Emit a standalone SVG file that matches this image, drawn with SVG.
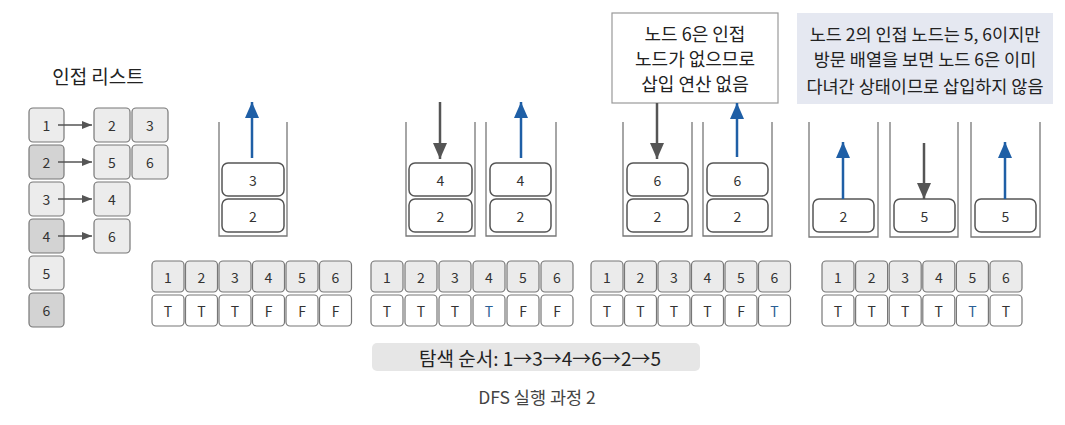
<svg xmlns="http://www.w3.org/2000/svg" width="1065" height="425" viewBox="0 0 1065 425">
<style>
text{font-family:"Noto Sans CJK KR","Noto Sans",sans-serif;fill:#333;text-anchor:middle;dominant-baseline:central}
.num{font-size:14px}
.note{font-size:18px;fill:#222}
.note2{font-size:17.5px;fill:#222}
.adjA{fill:#ececec;stroke:#777;stroke-width:1.2}
.adjB{fill:#d3d3d3;stroke:#777;stroke-width:1.2}
.hd{fill:#ebebeb;stroke:#777;stroke-width:1.2}
.cell{fill:#fff;stroke:#777;stroke-width:1.2}
.sbox{fill:#fff;stroke:#555;stroke-width:1.5}
.wall{fill:none;stroke:#777;stroke-width:1.3}
.blue{stroke:#1f5fa6;stroke-width:2.5;fill:none}
.gray{stroke:#555;stroke-width:2.5;fill:none}
.small{stroke:#555;stroke-width:1.5;fill:none}
.bt{fill:#2a5f95}
</style>
<defs>
<marker id="hb" markerUnits="userSpaceOnUse" markerWidth="16" markerHeight="14" refX="16" refY="7" orient="auto" viewBox="0 0 16 14"><path d="M0,0 L16,7 L0,14 Z" fill="#1f5fa6"/></marker>
<marker id="hg" markerUnits="userSpaceOnUse" markerWidth="16" markerHeight="14" refX="16" refY="7" orient="auto" viewBox="0 0 16 14"><path d="M0,0 L16,7 L0,14 Z" fill="#555"/></marker>
<marker id="hs" markerUnits="userSpaceOnUse" markerWidth="10" markerHeight="8" refX="10" refY="4" orient="auto" viewBox="0 0 10 8"><path d="M0,0 L10,4 L0,8 Z" fill="#555"/></marker>
</defs>

<g id="adj-title"><text x="98" y="75" style="font-size:19px;fill:#222">인접 리스트</text></g>
<g id="adj-list">
<rect class="adjA" x="29" y="108" width="35" height="34" rx="4"/><text class="num" x="46.5" y="125">1</text>
<rect class="adjB" x="29" y="145" width="35" height="34" rx="4"/><text class="num" x="46.5" y="162">2</text>
<rect class="adjA" x="29" y="182" width="35" height="34" rx="4"/><text class="num" x="46.5" y="199">3</text>
<rect class="adjB" x="29" y="219" width="35" height="34" rx="4"/><text class="num" x="46.5" y="236">4</text>
<rect class="adjA" x="29" y="256" width="35" height="34" rx="4"/><text class="num" x="46.5" y="273">5</text>
<rect class="adjB" x="29" y="293" width="35" height="34" rx="4"/><text class="num" x="46.5" y="310">6</text>
<rect class="adjA" x="94" y="108" width="36" height="34" rx="4"/><text class="num" x="112" y="125">2</text>
<rect class="adjA" x="132" y="108" width="36" height="34" rx="4"/><text class="num" x="150" y="125">3</text>
<rect class="adjA" x="94" y="145" width="36" height="34" rx="4"/><text class="num" x="112" y="162">5</text>
<rect class="adjA" x="132" y="145" width="36" height="34" rx="4"/><text class="num" x="150" y="162">6</text>
<rect class="adjA" x="94" y="182" width="36" height="34" rx="4"/><text class="num" x="112" y="199">4</text>
<rect class="adjA" x="94" y="219" width="36" height="34" rx="4"/><text class="num" x="112" y="236">6</text>
</g>

<g id="stack1">
<path class="wall" d="M219,122 V236 H287 V122"/>
<rect class="sbox" x="222" y="163" width="62" height="33" rx="6"/><text class="num" x="253" y="179.5">3</text>
<rect class="sbox" x="222" y="199" width="62" height="33" rx="6"/><text class="num" x="253" y="215.5">2</text>
</g>
<g id="stack2">
<path class="wall" d="M406,122 V236 H475 V122"/>
<rect class="sbox" x="409" y="163" width="63" height="33" rx="6"/><text class="num" x="440.5" y="179.5">4</text>
<rect class="sbox" x="409" y="199" width="63" height="33" rx="6"/><text class="num" x="440.5" y="215.5">2</text>
</g>
<g id="stack3">
<path class="wall" d="M486,122 V236 H556 V122"/>
<rect class="sbox" x="490" y="163" width="61" height="33" rx="6"/><text class="num" x="520.5" y="179.5">4</text>
<rect class="sbox" x="490" y="199" width="61" height="33" rx="6"/><text class="num" x="520.5" y="215.5">2</text>
</g>
<g id="stack4">
<path class="wall" d="M623,122 V236 H692 V122"/>
<rect class="sbox" x="627" y="163" width="61" height="33" rx="6"/><text class="num" x="657.5" y="179.5">6</text>
<rect class="sbox" x="627" y="199" width="61" height="33" rx="6"/><text class="num" x="657.5" y="215.5">2</text>
</g>
<g id="stack5">
<path class="wall" d="M703,122 V236 H772 V122"/>
<rect class="sbox" x="707" y="163" width="61" height="33" rx="6"/><text class="num" x="737.5" y="179.5">6</text>
<rect class="sbox" x="707" y="199" width="61" height="33" rx="6"/><text class="num" x="737.5" y="215.5">2</text>
</g>
<g id="stack6">
<path class="wall" d="M809,122 V237 H878 V122"/>
<rect class="sbox" x="813" y="199" width="61" height="33" rx="6"/><text class="num" x="843.5" y="215.5">2</text>
</g>
<g id="stack7">
<path class="wall" d="M890,122 V237 H958 V122"/>
<rect class="sbox" x="894" y="199" width="61" height="33" rx="6"/><text class="num" x="924.5" y="215.5">5</text>
</g>
<g id="stack8">
<path class="wall" d="M971,122 V237 H1040 V122"/>
<rect class="sbox" x="975" y="199" width="61" height="33" rx="6"/><text class="num" x="1005.5" y="215.5">5</text>
</g>

<g id="note1">
<rect x="612" y="13" width="166" height="90" fill="#fff" stroke="#999" stroke-width="1.2"/>
<text class="note" x="695" y="33">노드 6은 인접</text>
<text class="note" x="695" y="58">노드가 없으므로</text>
<text class="note" x="695" y="83">삽입 연산 없음</text>
</g>
<g id="note2">
<rect x="797" y="13" width="256" height="91" fill="#e5e8f1"/>
<text class="note2" x="925" y="33">노드 2의 인접 노드는 5, 6이지만</text>
<text class="note2" x="925" y="58">방문 배열을 보면 노드 6은 이미</text>
<text class="note2" x="925" y="85">다녀간 상태이므로 삽입하지 않음</text>
</g>

<g id="array1">
<rect class="hd" x="152" y="261" width="32" height="31" rx="4"/><text class="num" x="168" y="276.5">1</text>
<rect class="hd" x="185.5" y="261" width="32" height="31" rx="4"/><text class="num" x="201.5" y="276.5">2</text>
<rect class="hd" x="219" y="261" width="32" height="31" rx="4"/><text class="num" x="235" y="276.5">3</text>
<rect class="hd" x="252.5" y="261" width="32" height="31" rx="4"/><text class="num" x="268.5" y="276.5">4</text>
<rect class="hd" x="286" y="261" width="32" height="31" rx="4"/><text class="num" x="302" y="276.5">5</text>
<rect class="hd" x="319.5" y="261" width="32" height="31" rx="4"/><text class="num" x="335.5" y="276.5">6</text>
<rect class="cell" x="152" y="295" width="32" height="31" rx="4"/><text class="num" x="168" y="310.5">T</text>
<rect class="cell" x="185.5" y="295" width="32" height="31" rx="4"/><text class="num" x="201.5" y="310.5">T</text>
<rect class="cell" x="219" y="295" width="32" height="31" rx="4"/><text class="num" x="235" y="310.5">T</text>
<rect class="cell" x="252.5" y="295" width="32" height="31" rx="4"/><text class="num" x="268.5" y="310.5">F</text>
<rect class="cell" x="286" y="295" width="32" height="31" rx="4"/><text class="num" x="302" y="310.5">F</text>
<rect class="cell" x="319.5" y="295" width="32" height="31" rx="4"/><text class="num" x="335.5" y="310.5">F</text>
</g>
<g id="array2">
<rect class="hd" x="371" y="261" width="32" height="31" rx="4"/><text class="num" x="387" y="276.5">1</text>
<rect class="hd" x="405" y="261" width="32" height="31" rx="4"/><text class="num" x="421" y="276.5">2</text>
<rect class="hd" x="439" y="261" width="32" height="31" rx="4"/><text class="num" x="455" y="276.5">3</text>
<rect class="hd" x="473" y="261" width="32" height="31" rx="4"/><text class="num" x="489" y="276.5">4</text>
<rect class="hd" x="507" y="261" width="32" height="31" rx="4"/><text class="num" x="523" y="276.5">5</text>
<rect class="hd" x="541" y="261" width="32" height="31" rx="4"/><text class="num" x="557" y="276.5">6</text>
<rect class="cell" x="371" y="295" width="32" height="31" rx="4"/><text class="num" x="387" y="310.5">T</text>
<rect class="cell" x="405" y="295" width="32" height="31" rx="4"/><text class="num" x="421" y="310.5">T</text>
<rect class="cell" x="439" y="295" width="32" height="31" rx="4"/><text class="num" x="455" y="310.5">T</text>
<rect class="cell" x="473" y="295" width="32" height="31" rx="4"/><text class="num bt" x="489" y="310.5">T</text>
<rect class="cell" x="507" y="295" width="32" height="31" rx="4"/><text class="num" x="523" y="310.5">F</text>
<rect class="cell" x="541" y="295" width="32" height="31" rx="4"/><text class="num" x="557" y="310.5">F</text>
</g>
<g id="array3">
<rect class="hd" x="591" y="261" width="32" height="31" rx="4"/><text class="num" x="607" y="276.5">1</text>
<rect class="hd" x="624.5" y="261" width="32" height="31" rx="4"/><text class="num" x="640.5" y="276.5">2</text>
<rect class="hd" x="658" y="261" width="32" height="31" rx="4"/><text class="num" x="674" y="276.5">3</text>
<rect class="hd" x="691.5" y="261" width="32" height="31" rx="4"/><text class="num" x="707.5" y="276.5">4</text>
<rect class="hd" x="725" y="261" width="32" height="31" rx="4"/><text class="num" x="741" y="276.5">5</text>
<rect class="hd" x="758.5" y="261" width="32" height="31" rx="4"/><text class="num" x="774.5" y="276.5">6</text>
<rect class="cell" x="591" y="295" width="32" height="31" rx="4"/><text class="num" x="607" y="310.5">T</text>
<rect class="cell" x="624.5" y="295" width="32" height="31" rx="4"/><text class="num" x="640.5" y="310.5">T</text>
<rect class="cell" x="658" y="295" width="32" height="31" rx="4"/><text class="num" x="674" y="310.5">T</text>
<rect class="cell" x="691.5" y="295" width="32" height="31" rx="4"/><text class="num" x="707.5" y="310.5">T</text>
<rect class="cell" x="725" y="295" width="32" height="31" rx="4"/><text class="num" x="741" y="310.5">F</text>
<rect class="cell" x="758.5" y="295" width="32" height="31" rx="4"/><text class="num bt" x="774.5" y="310.5">T</text>
</g>
<g id="array4">
<rect class="hd" x="822" y="261" width="32" height="31" rx="4"/><text class="num" x="838" y="276.5">1</text>
<rect class="hd" x="855.6" y="261" width="32" height="31" rx="4"/><text class="num" x="871.6" y="276.5">2</text>
<rect class="hd" x="889.2" y="261" width="32" height="31" rx="4"/><text class="num" x="905.2" y="276.5">3</text>
<rect class="hd" x="922.8" y="261" width="32" height="31" rx="4"/><text class="num" x="938.8" y="276.5">4</text>
<rect class="hd" x="956.4" y="261" width="32" height="31" rx="4"/><text class="num" x="972.4" y="276.5">5</text>
<rect class="hd" x="990" y="261" width="32" height="31" rx="4"/><text class="num" x="1006" y="276.5">6</text>
<rect class="cell" x="822" y="295" width="32" height="31" rx="4"/><text class="num" x="838" y="310.5">T</text>
<rect class="cell" x="855.6" y="295" width="32" height="31" rx="4"/><text class="num" x="871.6" y="310.5">T</text>
<rect class="cell" x="889.2" y="295" width="32" height="31" rx="4"/><text class="num" x="905.2" y="310.5">T</text>
<rect class="cell" x="922.8" y="295" width="32" height="31" rx="4"/><text class="num" x="938.8" y="310.5">T</text>
<rect class="cell" x="956.4" y="295" width="32" height="31" rx="4"/><text class="num bt" x="972.4" y="310.5">T</text>
<rect class="cell" x="990" y="295" width="32" height="31" rx="4"/><text class="num" x="1006" y="310.5">T</text>
</g>

<g id="connectors">
<line class="small" x1="58" y1="125" x2="92" y2="125" marker-end="url(#hs)"/>
<line class="small" x1="58" y1="162" x2="92" y2="162" marker-end="url(#hs)"/>
<line class="small" x1="58" y1="199" x2="92" y2="199" marker-end="url(#hs)"/>
<line class="small" x1="58" y1="236" x2="92" y2="236" marker-end="url(#hs)"/>
<line class="blue" x1="252" y1="158" x2="252" y2="102" marker-end="url(#hb)"/>
<line class="gray" x1="440" y1="102" x2="440" y2="159" marker-end="url(#hg)"/>
<line class="blue" x1="521" y1="158" x2="521" y2="102" marker-end="url(#hb)"/>
<line class="gray" x1="657" y1="103" x2="657" y2="159" marker-end="url(#hg)"/>
<line class="blue" x1="737" y1="157" x2="737" y2="103" marker-end="url(#hb)"/>
<line class="blue" x1="843" y1="199" x2="843" y2="142" marker-end="url(#hb)"/>
<line class="gray" x1="924" y1="143" x2="924" y2="199" marker-end="url(#hg)"/>
<line class="blue" x1="1005" y1="199" x2="1005" y2="142" marker-end="url(#hb)"/>
</g>

<g id="order">
<rect x="372" y="343" width="328" height="28" rx="5" fill="#e6e6e6"/>
<text x="540" y="357" style="font-size:19px;fill:#222">탐색 순서: 1→3→4→6→2→5</text>
</g>
<g id="caption"><text x="537" y="396" style="font-size:17.5px;fill:#444">DFS 실행 과정 2</text></g>
</svg>
